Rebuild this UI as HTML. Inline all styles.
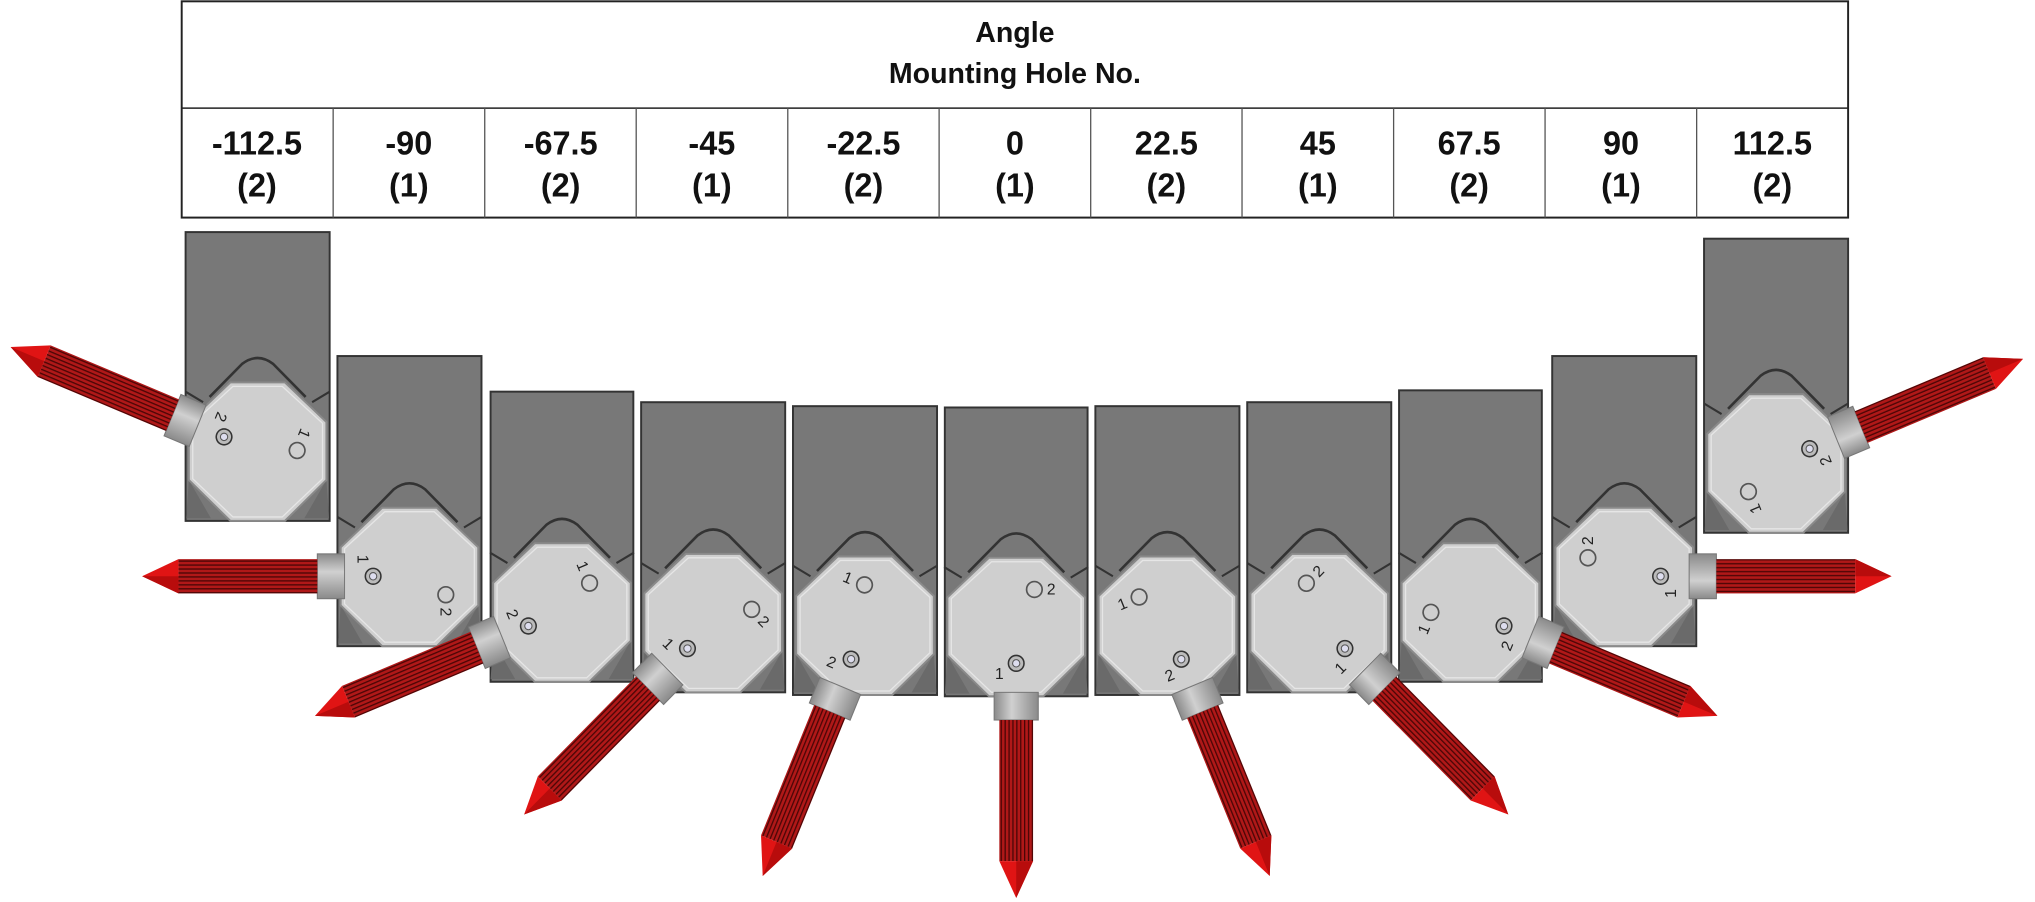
<!DOCTYPE html>
<html><head><meta charset="utf-8"><style>
html,body{margin:0;padding:0;background:#fff;}
svg{display:block;}
</style></head><body>
<svg width="2035" height="902" viewBox="0 0 1568 684" preserveAspectRatio="none" xmlns="http://www.w3.org/2000/svg" font-family="Liberation Sans, Arial, sans-serif">
<defs>
<pattern id="str" patternUnits="userSpaceOnUse" width="3" height="10">
<rect width="3" height="10" fill="#b01818"/><rect width="1" height="10" fill="#4a0606"/>
</pattern>
<linearGradient id="con" x1="0" y1="0" x2="1" y2="0">
<stop offset="0" stop-color="#8a8a8a"/><stop offset="0.4" stop-color="#d0d0d0"/><stop offset="1" stop-color="#8a8a8a"/>
</linearGradient>
<g id="plate">
<path d="M-37,-94 L-12,-119 Q0,-128 12,-119 L37,-94" fill="none" stroke="#333" stroke-width="2"/>
<path d="M-55.5,-98 L-42,-90 M55.5,-98 L42,-90" stroke="#333" stroke-width="1.6" fill="none"/>
<path d="M-53,-31 L-36,-2 L-55,-2 Z M53,-31 L36,-2 L55,-2 Z" fill="#6a6a6a"/>
<polygon points="-21,-105 21,-105 53,-75 53,-31 21,0 -21,0 -53,-31 -53,-75" fill="#cfcfcf" stroke="#8a8a8a" stroke-width="1.5"/>
<polygon points="-19,-102 19,-102 50,-74 50,-32 19,-3 -19,-3 -50,-32 -50,-74" fill="none" stroke="#e6e6e6" stroke-width="1"/>
</g>
<g id="rod">
<rect x="-17" y="50" width="34" height="21" fill="url(#con)" stroke="#777" stroke-width="0.8"/>
<rect x="-13" y="71" width="26" height="107" fill="url(#str)"/>
<polygon points="-13,178 13,178 0,206" fill="#e01414"/>
<polygon points="0,178 13,178 0,206" fill="#b80c0c"/>
<circle cx="0" cy="28" r="6" fill="#bbb" stroke="#333" stroke-width="1.2"/>
<circle cx="0" cy="28" r="2.8" fill="#dde" stroke="#555" stroke-width="0.8"/>
</g>
<circle id="h" r="6" fill="none" stroke="#555" stroke-width="1.3"/>
</defs>

<rect x="140" y="1" width="1284" height="164" fill="#fff" stroke="#222" stroke-width="1.5"/>
<line x1="140" y1="82" x2="1424" y2="82" stroke="#222" stroke-width="1.2"/>
<g stroke="#555" stroke-width="1">
<line x1="256.7" y1="82" x2="256.7" y2="165"/><line x1="373.5" y1="82" x2="373.5" y2="165"/>
<line x1="490.2" y1="82" x2="490.2" y2="165"/><line x1="607" y1="82" x2="607" y2="165"/>
<line x1="723.6" y1="82" x2="723.6" y2="165"/><line x1="840.4" y1="82" x2="840.4" y2="165"/>
<line x1="957" y1="82" x2="957" y2="165"/><line x1="1073.8" y1="82" x2="1073.8" y2="165"/>
<line x1="1190.5" y1="82" x2="1190.5" y2="165"/><line x1="1307.3" y1="82" x2="1307.3" y2="165"/>
</g>
<g font-weight="bold" font-size="22" text-anchor="middle" fill="#111">
<text x="782" y="32">Angle</text>
<text x="782" y="63">Mounting Hole No.</text>
</g>
<g font-weight="bold" font-size="25" text-anchor="middle" fill="#111">
<text x="198" y="117">-112.5</text><text x="198" y="149">(2)</text>
<text x="315" y="117">-90</text><text x="315" y="149">(1)</text>
<text x="432" y="117">-67.5</text><text x="432" y="149">(2)</text>
<text x="548.5" y="117">-45</text><text x="548.5" y="149">(1)</text>
<text x="665.3" y="117">-22.5</text><text x="665.3" y="149">(2)</text>
<text x="782" y="117">0</text><text x="782" y="149">(1)</text>
<text x="898.7" y="117">22.5</text><text x="898.7" y="149">(2)</text>
<text x="1015.4" y="117">45</text><text x="1015.4" y="149">(1)</text>
<text x="1132" y="117">67.5</text><text x="1132" y="149">(2)</text>
<text x="1249" y="117">90</text><text x="1249" y="149">(1)</text>
<text x="1365.6" y="117">112.5</text><text x="1365.6" y="149">(2)</text>
</g>

<g fill="#787878" stroke="#333" stroke-width="1.5">
<rect x="143" y="176" width="111" height="219"/>
<rect x="260" y="270" width="111" height="220"/>
<rect x="378" y="297" width="110" height="220"/>
<rect x="494" y="305" width="111" height="220"/>
<rect x="611" y="308" width="111" height="219"/>
<rect x="728" y="309" width="110" height="219"/>
<rect x="844" y="308" width="111" height="219"/>
<rect x="961" y="305" width="111" height="220"/>
<rect x="1078" y="296" width="110" height="221"/>
<rect x="1196" y="270" width="111" height="220"/>
<rect x="1313" y="181" width="111" height="223"/>
</g>
<use href="#plate" x="198.5" y="395"/>
<use href="#plate" x="315.5" y="490"/>
<use href="#plate" x="433" y="517"/>
<use href="#plate" x="549.5" y="525"/>
<use href="#plate" x="666.5" y="527"/>
<use href="#plate" x="783" y="528"/>
<use href="#plate" x="899.5" y="527"/>
<use href="#plate" x="1016.5" y="525"/>
<use href="#plate" x="1133" y="517"/>
<use href="#plate" x="1251.5" y="490"/>
<use href="#plate" x="1368.5" y="404"/>

<g font-size="12" fill="#222" text-anchor="middle">
<g transform="translate(198.5,342) rotate(112.5)"><use href="#rod"/><use href="#h" x="-12" y="-28"/><text x="-13" y="40">2</text><text x="-26" y="-24">1</text></g>
<g transform="translate(315.5,437) rotate(90)"><use href="#rod"/><use href="#h" x="14" y="-28"/><text x="-13" y="40">1</text><text x="27" y="-24">2</text></g>
<g transform="translate(433,464) rotate(67.5)"><use href="#rod"/><use href="#h" x="-12" y="-28"/><text x="-13" y="40">2</text><text x="-26" y="-24">1</text></g>
<g transform="translate(549.5,472) rotate(45)"><use href="#rod"/><use href="#h" x="14" y="-28"/><text x="-13" y="40">1</text><text x="27" y="-24">2</text></g>
<g transform="translate(666.5,474) rotate(22.5)"><use href="#rod"/><use href="#h" x="-12" y="-28"/><text x="-13" y="40">2</text><text x="-26" y="-24">1</text></g>
<g transform="translate(783,475)"><use href="#rod"/><use href="#h" x="14" y="-28"/><text x="-13" y="40">1</text><text x="27" y="-24">2</text></g>
<g transform="translate(899.5,474) rotate(-22.5)"><use href="#rod"/><use href="#h" x="-12" y="-28"/><text x="-13" y="40">2</text><text x="-26" y="-24">1</text></g>
<g transform="translate(1016.5,472) rotate(-45)"><use href="#rod"/><use href="#h" x="14" y="-28"/><text x="-13" y="40">1</text><text x="27" y="-24">2</text></g>
<g transform="translate(1133,464) rotate(-67.5)"><use href="#rod"/><use href="#h" x="-12" y="-28"/><text x="-13" y="40">2</text><text x="-26" y="-24">1</text></g>
<g transform="translate(1251.5,437) rotate(-90)"><use href="#rod"/><use href="#h" x="14" y="-28"/><text x="-13" y="40">1</text><text x="27" y="-24">2</text></g>
<g transform="translate(1368.5,351) rotate(-112.5)"><use href="#rod"/><use href="#h" x="-12" y="-28"/><text x="-13" y="40">2</text><text x="-26" y="-24">1</text></g>
</g>
</svg>
</body></html>
